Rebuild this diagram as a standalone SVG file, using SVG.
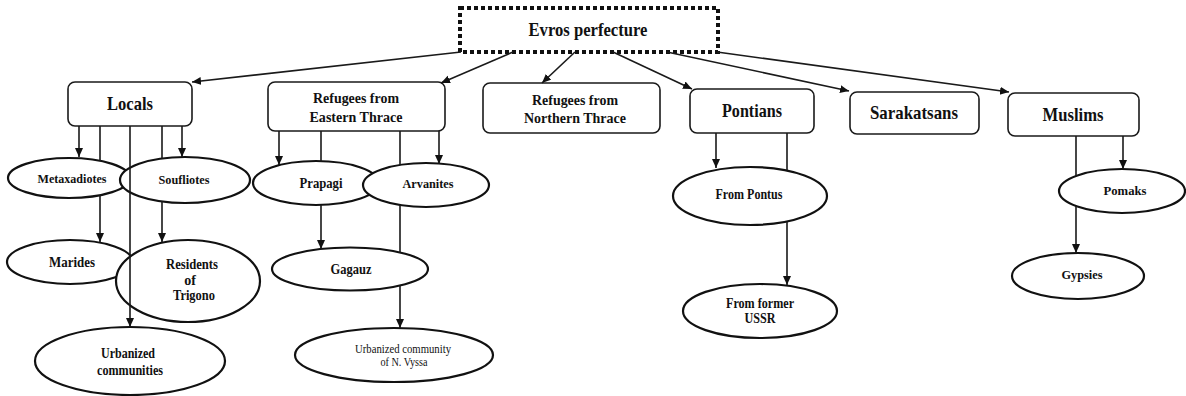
<svg xmlns="http://www.w3.org/2000/svg" width="1186" height="396" viewBox="0 0 1186 396">
<style>
.box{fill:#fff;stroke:#1a1a1a;stroke-width:1.6}
.ell{fill:#fff;stroke:#111;stroke-width:2.2}
.root{fill:#fff;stroke:#111;stroke-width:4;stroke-dasharray:4 3}
.t{font-family:'Liberation Serif','Times New Roman',serif;font-weight:bold;fill:#111;text-anchor:middle}
.tn{font-family:'Liberation Serif','Times New Roman',serif;fill:#111;text-anchor:middle}
.c{fill:none;stroke:#1a1a1a;stroke-width:1.6}
</style>
<defs>
<marker id="ah" markerUnits="userSpaceOnUse" markerWidth="10" markerHeight="10" refX="9" refY="4" orient="auto">
<path d="M0,0 L9,4 L0,8 Z" fill="#111"/>
</marker>
</defs>
<rect width="1186" height="396" fill="#fff"/>

<g id="evros">
<rect class="root" x="460" y="8" width="258" height="44"/>
<text class="t" x="588" y="36" font-size="18" textLength="119" lengthAdjust="spacingAndGlyphs">Evros perfecture</text>
</g>
<g id="locals">
<rect class="box" x="68" y="82" width="124" height="44" rx="7"/>
<text class="t" x="130" y="110" font-size="19" textLength="46" lengthAdjust="spacingAndGlyphs">Locals</text>
</g>
<g id="eastern-thrace">
<rect class="box" x="268" y="82" width="177" height="49" rx="7"/>
<text class="t" x="356" y="103" font-size="15" textLength="86" lengthAdjust="spacingAndGlyphs">Refugees from</text>
<text class="t" x="356" y="122" font-size="15" textLength="93" lengthAdjust="spacingAndGlyphs">Eastern Thrace</text>
</g>
<g id="northern-thrace">
<rect class="box" x="483" y="83" width="177" height="50" rx="7"/>
<text class="t" x="575" y="105" font-size="15" textLength="86" lengthAdjust="spacingAndGlyphs">Refugees from</text>
<text class="t" x="575" y="123" font-size="15" textLength="102" lengthAdjust="spacingAndGlyphs">Northern Thrace</text>
</g>
<g id="pontians">
<rect class="box" x="690" y="89" width="124" height="44" rx="7"/>
<text class="t" x="752" y="117" font-size="19" textLength="60" lengthAdjust="spacingAndGlyphs">Pontians</text>
</g>
<g id="sarakatsans">
<rect class="box" x="850" y="92" width="129" height="42" rx="7"/>
<text class="t" x="914" y="119" font-size="19" textLength="88" lengthAdjust="spacingAndGlyphs">Sarakatsans</text>
</g>
<g id="muslims">
<rect class="box" x="1008" y="93" width="131" height="43" rx="7"/>
<text class="t" x="1073" y="121" font-size="19" textLength="61" lengthAdjust="spacingAndGlyphs">Muslims</text>
</g>

<g id="metaxadiotes">
<ellipse class="ell" cx="69" cy="178" rx="61" ry="20"/>
<text class="t" x="72" y="183" font-size="13" textLength="69" lengthAdjust="spacingAndGlyphs">Metaxadiotes</text>
</g>
<g id="soufliotes">
<ellipse class="ell" cx="185" cy="180" rx="65" ry="23"/>
<text class="t" x="184" y="184" font-size="13" textLength="51" lengthAdjust="spacingAndGlyphs">Soufliotes</text>
</g>
<g id="marides">
<ellipse class="ell" cx="70" cy="262" rx="63" ry="22"/>
<text class="t" x="72" y="267" font-size="15" textLength="46" lengthAdjust="spacingAndGlyphs">Marides</text>
</g>
<g id="residents-trigono">
<ellipse class="ell" cx="188" cy="281" rx="72" ry="41"/>
<text class="t" x="192" y="269" font-size="14" textLength="52" lengthAdjust="spacingAndGlyphs">Residents</text>
<text class="t" x="190" y="285" font-size="14">of</text>
<text class="t" x="194" y="300" font-size="14" textLength="42" lengthAdjust="spacingAndGlyphs">Trigono</text>
</g>
<g id="urbanized-communities">
<ellipse class="ell" cx="130" cy="361" rx="95" ry="34"/>
<text class="t" x="128" y="358" font-size="14" textLength="54" lengthAdjust="spacingAndGlyphs">Urbanized</text>
<text class="t" x="130" y="375" font-size="14" textLength="66" lengthAdjust="spacingAndGlyphs">communities</text>
</g>
<g id="prapagi">
<ellipse class="ell" cx="316" cy="183" rx="63" ry="22"/>
<text class="t" x="321" y="188" font-size="14" textLength="43" lengthAdjust="spacingAndGlyphs">Prapagi</text>
</g>
<g id="arvanites">
<ellipse class="ell" cx="426" cy="185" rx="63" ry="22"/>
<text class="t" x="428" y="188" font-size="13" textLength="51" lengthAdjust="spacingAndGlyphs">Arvanites</text>
</g>
<g id="gagauz">
<ellipse class="ell" cx="350" cy="269" rx="78" ry="21.5"/>
<text class="t" x="351" y="274" font-size="14" textLength="41" lengthAdjust="spacingAndGlyphs">Gagauz</text>
</g>
<g id="urbanized-vyssa">
<ellipse class="ell" cx="394" cy="355" rx="99" ry="27"/>
<text class="tn" x="403" y="353" font-size="12" textLength="96" lengthAdjust="spacingAndGlyphs">Urbanized community</text>
<text class="tn" x="404" y="366" font-size="12" textLength="47" lengthAdjust="spacingAndGlyphs">of N. Vyssa</text>
</g>
<g id="from-pontus">
<ellipse class="ell" cx="750" cy="196" rx="77" ry="29"/>
<text class="t" x="749" y="199" font-size="14" textLength="67" lengthAdjust="spacingAndGlyphs">From Pontus</text>
</g>
<g id="from-ussr">
<ellipse class="ell" cx="760" cy="311" rx="77" ry="27"/>
<text class="t" x="760" y="308" font-size="14" textLength="68" lengthAdjust="spacingAndGlyphs">From former</text>
<text class="t" x="760" y="323" font-size="14" textLength="31" lengthAdjust="spacingAndGlyphs">USSR</text>
</g>
<g id="pomaks">
<ellipse class="ell" cx="1122" cy="191" rx="63" ry="22"/>
<text class="t" x="1125" y="195" font-size="13" textLength="43" lengthAdjust="spacingAndGlyphs">Pomaks</text>
</g>
<g id="gypsies">
<ellipse class="ell" cx="1078" cy="276" rx="66" ry="23"/>
<text class="t" x="1082" y="279" font-size="13" textLength="41" lengthAdjust="spacingAndGlyphs">Gypsies</text>
</g>

<g id="connectors">
<path class="c" d="M461,52 L192,82" marker-end="url(#ah)"/>
<path class="c" d="M513,52 L441,83" marker-end="url(#ah)"/>
<path class="c" d="M575,52 L542,83" marker-end="url(#ah)"/>
<path class="c" d="M613,52 L692,89" marker-end="url(#ah)"/>
<path class="c" d="M667,52 L849,91" marker-end="url(#ah)"/>
<path class="c" d="M717,52 L1009,92" marker-end="url(#ah)"/>

<path class="c" d="M79,126 L79,157" marker-end="url(#ah)"/>
<path class="c" d="M100,126 L100,161 M100,195 L100,242" marker-end="url(#ah)"/>
<path class="c" d="M130,126 L130,327" marker-end="url(#ah)"/>
<path class="c" d="M162,126 L162,159 M162,201 L162,242" marker-end="url(#ah)"/>
<path class="c" d="M182,126 L182,157" marker-end="url(#ah)"/>

<path class="c" d="M279,131 L279,165" marker-end="url(#ah)"/>
<path class="c" d="M321,131 L321,162 M321,205 L321,249" marker-end="url(#ah)"/>
<path class="c" d="M400,131 L400,165 M400,205 L400,253 M400,285 L400,328" marker-end="url(#ah)"/>
<path class="c" d="M439,131 L439,164" marker-end="url(#ah)"/>

<path class="c" d="M716,133 L716,168" marker-end="url(#ah)"/>
<path class="c" d="M787,133 L787,170 M787,222 L787,285" marker-end="url(#ah)"/>

<path class="c" d="M1076,136 L1076,176 M1076,206 L1076,253" marker-end="url(#ah)"/>
<path class="c" d="M1123,136 L1123,169" marker-end="url(#ah)"/>
</g>
</svg>
